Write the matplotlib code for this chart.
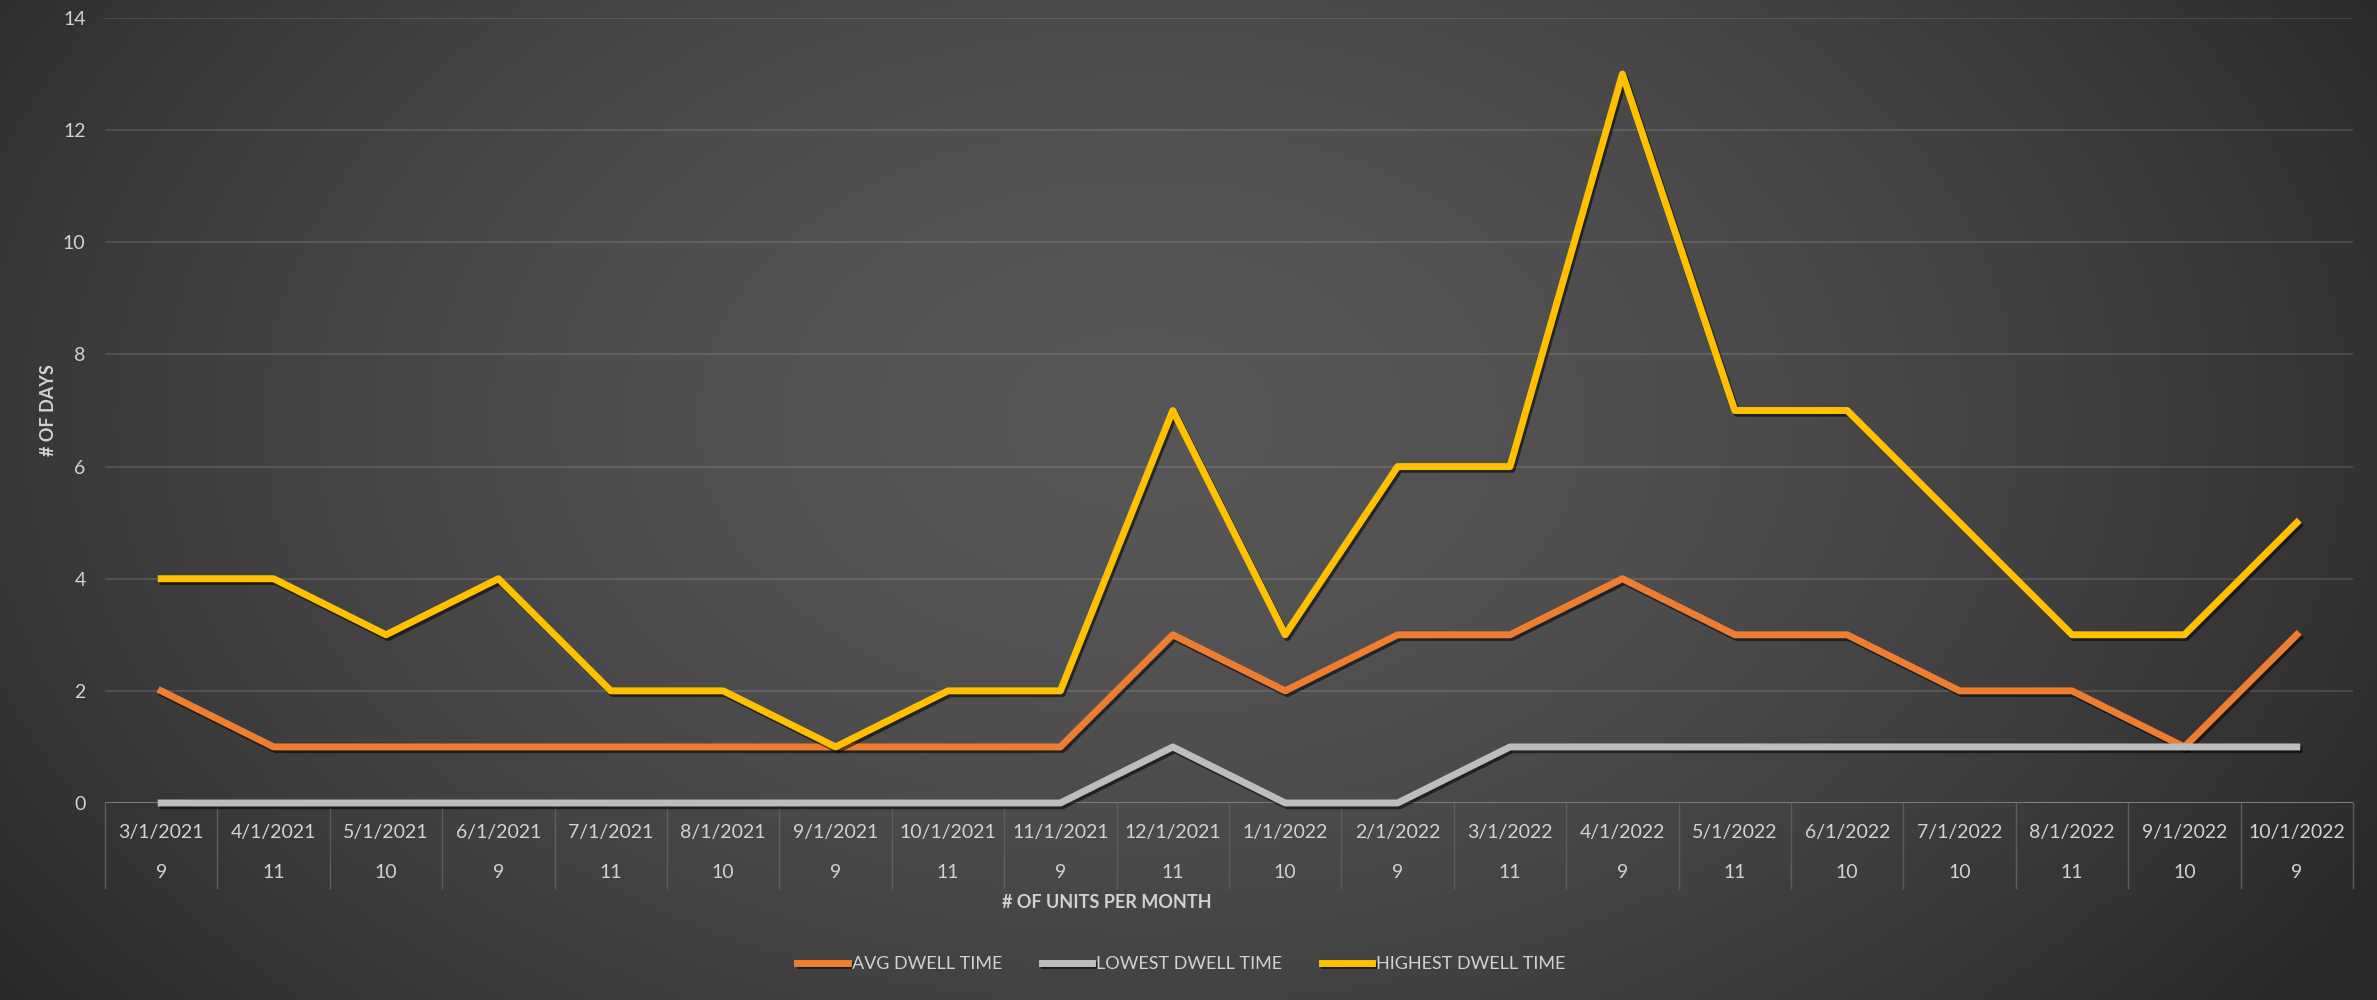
import numpy as np
import matplotlib.pyplot as plt
import matplotlib.patheffects as pe

plt.rcParams['font.family'] = ['Lato', 'DejaVu Sans']

months = ['3/1/2021', '4/1/2021', '5/1/2021', '6/1/2021', '7/1/2021', '8/1/2021',
          '9/1/2021', '10/1/2021', '11/1/2021', '12/1/2021', '1/1/2022', '2/1/2022',
          '3/1/2022', '4/1/2022', '5/1/2022', '6/1/2022', '7/1/2022', '8/1/2022',
          '9/1/2022', '10/1/2022']
units = [9, 11, 10, 9, 11, 10, 9, 11, 9, 11, 10, 9, 11, 9, 11, 10, 10, 11, 10, 9]
avg_dwell = [2, 1, 1, 1, 1, 1, 1, 1, 1, 3, 2, 3, 3, 4, 3, 3, 2, 2, 1, 3]
lowest_dwell = [0, 0, 0, 0, 0, 0, 0, 0, 0, 1, 0, 0, 1, 1, 1, 1, 1, 1, 1, 1]
highest_dwell = [4, 4, 3, 4, 2, 2, 1, 2, 2, 7, 3, 6, 6, 13, 7, 7, 5, 3, 3, 5]

txt = '#d2d2d2'
fig = plt.figure(figsize=(23.77, 10), dpi=100)

# radial dark-grey backdrop
bg = fig.add_axes([0, 0, 1, 1], zorder=-10)
yy, xx = np.mgrid[0:1:500j, 0:1:1200j]
r = np.sqrt(((xx - 0.48) / 0.6) ** 2 + ((yy - 0.42) / 0.95) ** 2)
shade = 0x57 - (0x57 - 0x29) * np.clip(r, 0, 1) ** 1.6
bg.imshow(np.dstack([shade / 255.0] * 3), extent=(0, 1, 0, 1), aspect='auto', origin='upper')
bg.axis('off')

ax = fig.add_axes([105 / 2377, 0.197, 2248 / 2377, 0.785])
ax.set_facecolor('none')
ax.axhline(0, color='#6a6a6a', lw=1.5, zorder=1)

x = np.arange(len(months))
shadow = [pe.SimpleLineShadow(offset=(1.5, -2), shadow_color='black', alpha=0.55), pe.Normal()]
ax.plot(x, avg_dwell, color='#ED7D31', lw=5, label='AVG DWELL TIME', path_effects=shadow, zorder=3, clip_on=False)
ax.plot(x, lowest_dwell, color='#BDBDBD', lw=5, label='LOWEST DWELL TIME', path_effects=shadow, zorder=3, clip_on=False)
ax.plot(x, highest_dwell, color='#FFC000', lw=5, label='HIGHEST DWELL TIME', path_effects=shadow, zorder=3, clip_on=False)

ax.set_xlim(-0.5, len(months) - 0.5)
ax.set_ylim(0, 14)
ax.set_yticks(range(0, 15, 2))
ax.grid(axis='y', color='white', alpha=0.12, lw=1.5)
ax.tick_params(axis='y', length=0, pad=14, labelsize=14, labelcolor=txt)
ax.set_xticks([])
for s in ax.spines.values():
    s.set_visible(False)

# two-row category axis: month on top, unit count below
tr = ax.get_xaxis_transform()
for i, (m, u) in enumerate(zip(months, units)):
    ax.text(i, -0.037, m, transform=tr, ha='center', va='center', fontsize=14, color=txt)
    ax.text(i, -0.089, str(u), transform=tr, ha='center', va='center', fontsize=14, color=txt)
for b in np.arange(-0.5, len(months), 1.0):
    ax.plot([b, b], [0, -0.108], transform=tr, color='#5e5e5e', lw=1, clip_on=False)

ax.set_ylabel('# OF DAYS', fontsize=13, fontweight='bold', color=txt, labelpad=4)
fig.text(1107 / 2377, 1 - 903 / 1000, '# OF UNITS PER MONTH', ha='center', va='center',
         fontsize=13, fontweight='bold', color=txt)

fig.legend(loc='center', bbox_to_anchor=(0.497, 1 - 964 / 1000), ncol=3, frameon=False,
           fontsize=13, labelcolor=txt, handlelength=2.8, columnspacing=2.2, handletextpad=0.2)

fig.savefig('out.png', dpi=100)
